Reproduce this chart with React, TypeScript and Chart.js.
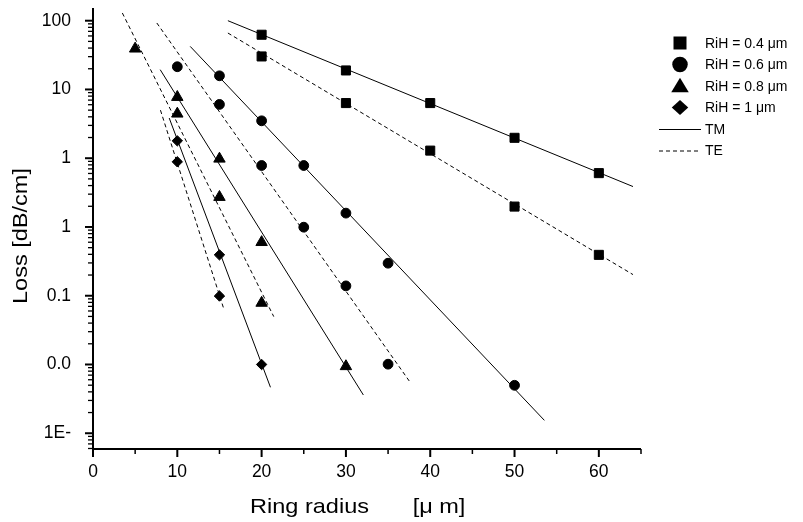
import React, { useEffect, useRef } from 'react';
import { Chart, registerables } from 'chart.js';

Chart.register(...registerables);

const FONT = '"Liberation Sans", Arial, Helvetica, sans-serif';

// ---- axes ----
const X_TICKS = [0, 10, 20, 30, 40, 50, 60];
const X_MINOR_TICKS = [5, 15, 25, 35, 45, 55, 65];
const Y_TICKS = [100, 10, 1, 0.1, 0.01, 0.001, 0.0001];
const Y_TICK_LABELS = ['100', '10', '1', '1', '0.1', '0.0', '1E-'];
const X_MIN = 0;
const X_MAX = 65;
const Y_MIN = 5.9e-5;
const Y_MAX = 153;

const X_TITLE = 'Ring radius';
const X_UNIT = '[\u03bc m]';
const Y_TITLE = 'Loss [dB/cm]';
const SERIES_LABELS = ['RiH = 0.4 \u03bcm', 'RiH = 0.6 \u03bcm', 'RiH = 0.8 \u03bcm', 'RiH = 1 \u03bcm'];
const MODE_LABELS = ['TM', 'TE'];

// ---- measured points ----
const R_04 = [20, 30, 40, 50, 60];
const TM_04 = [62.5, 18.9, 6.34, 1.98, 0.607];
const TE_04 = [30.2, 6.34, 1.29, 0.198, 0.0393];

const R_06_TM = [15, 20, 25, 30, 35, 50];
const TM_06 = [15.8, 3.5, 0.783, 0.159, 0.0297, 0.000498];
const R_06_TE = [10, 15, 20, 25, 30, 35];
const TE_06 = [21.4, 6.06, 0.783, 0.0993, 0.0139, 0.00101];

const R_08_TM = [10, 15, 20, 30];
const TM_08 = [7.74, 0.98, 0.06, 0.00094];
const R_08_TE = [5, 10, 15, 20];
const TE_08 = [39.1, 4.43, 0.272, 0.00785];

const R_1_TM = [10, 15, 20];
const TM_1 = [1.79, 0.0393, 0.001];
const R_1_TE = [10, 15];
const TE_1 = [0.887, 0.0099];

// ---- fitted lines (start / end) ----
const FIT_04_TM_X = [16.0, 64.05];
const FIT_04_TM_Y = [100, 0.387];
const FIT_04_TE_X = [16.0, 64.05];
const FIT_04_TE_Y = [66.2, 0.0203];
const FIT_06_TM_X = [11.53, 53.54];
const FIT_06_TM_Y = [42.3, 0.000154];
const FIT_06_TE_X = [7.57, 37.57];
const FIT_06_TE_Y = [92.6, 0.000562];
const FIT_08_TM_X = [7.97, 32.07];
const FIT_08_TM_Y = [19.4, 0.00036];
const FIT_08_TE_X = [3.48, 21.44];
const FIT_08_TE_Y = [129.5, 0.00497];
const FIT_1_TM_X = [9.04, 21.05];
const FIT_1_TM_Y = [3.84, 0.000466];
const FIT_1_TE_X = [8.0, 15.49];
const FIT_1_TE_Y = [5.0, 0.00657];

const pts = (xs: number[], ys: number[]) => xs.map((x, i) => ({ x, y: ys[i] }));

const TE_DASH = [4, 3];

function lineDs(xs: number[], ys: number[], dashed: boolean) {
  return {
    type: 'line' as const,
    label: dashed ? MODE_LABELS[1] : MODE_LABELS[0],
    data: pts(xs, ys),
    borderColor: '#000',
    borderWidth: 1,
    borderDash: dashed ? TE_DASH : [],
    pointRadius: 0,
    fill: false,
    tension: 0,
    order: 2,
  };
}

function markerDs(label: string, data: { x: number; y: number }[], style: string, radius: number) {
  return {
    type: 'scatter' as const,
    label,
    data,
    pointStyle: style,
    pointRadius: radius,
    pointBackgroundColor: '#000',
    pointBorderColor: '#000',
    pointBorderWidth: 1,
    showLine: false,
    order: 1,
  };
}

function drawLegendMarker(ctx: CanvasRenderingContext2D, style: string, x: number, y: number, w: number, h: number) {
  ctx.beginPath();
  if (style === 'rect') {
    ctx.rect(x - w / 2, y - h / 2, w, h);
  } else if (style === 'circle') {
    ctx.arc(x, y, w / 2, 0, Math.PI * 2);
  } else if (style === 'triangle') {
    ctx.moveTo(x, y - h / 2);
    ctx.lineTo(x + w / 2, y + h / 2);
    ctx.lineTo(x - w / 2, y + h / 2);
    ctx.closePath();
  } else {
    ctx.moveTo(x, y - h / 2);
    ctx.lineTo(x + w / 2, y);
    ctx.lineTo(x, y + h / 2);
    ctx.lineTo(x - w / 2, y);
    ctx.closePath();
  }
  ctx.fill();
}

function scaledText(ctx: CanvasRenderingContext2D, text: string, x: number, y: number, rot: number, sx: number) {
  ctx.save();
  ctx.translate(x, y);
  ctx.rotate(rot);
  ctx.scale(sx, 1);
  ctx.textAlign = 'center';
  ctx.textBaseline = 'middle';
  ctx.fillText(text, 0, 0);
  ctx.restore();
}

const axesPlugin = {
  id: 'customAxes',
  beforeDatasetsDraw(chart: any) {
    const { ctx, chartArea: a, scales } = chart;
    const xs = scales.x;
    const ys = scales.y;
    ctx.save();
    ctx.strokeStyle = '#000';
    ctx.lineWidth = 2;
    ctx.beginPath();
    ctx.moveTo(a.left, a.top);
    ctx.lineTo(a.left, a.bottom + 1);
    ctx.moveTo(a.left - 1, a.bottom);
    ctx.lineTo(a.right, a.bottom);
    ctx.stroke();
    // x ticks
    ctx.beginPath();
    X_TICKS.forEach((v) => {
      const p = xs.getPixelForValue(v);
      ctx.moveTo(p, a.bottom);
      ctx.lineTo(p, a.bottom + 8);
    });
    ctx.stroke();
    ctx.lineWidth = 1.5;
    ctx.beginPath();
    X_MINOR_TICKS.forEach((v) => {
      const p = xs.getPixelForValue(v);
      ctx.moveTo(p, a.bottom);
      ctx.lineTo(p, a.bottom + 5);
    });
    ctx.stroke();
    // y ticks (log: majors at decades, minors 2..9)
    for (let e = -5; e <= 2; e++) {
      for (let k = 1; k <= 9; k++) {
        const v = k * Math.pow(10, e);
        if (v < Y_MIN || v > Y_MAX) continue;
        const p = ys.getPixelForValue(v);
        ctx.lineWidth = k === 1 ? 2 : 1.3;
        ctx.beginPath();
        ctx.moveTo(a.left - (k === 1 ? 8 : 5), p);
        ctx.lineTo(a.left, p);
        ctx.stroke();
      }
    }
    ctx.restore();
  },
  afterDraw(chart: any) {
    const { ctx } = chart;
    ctx.save();
    ctx.fillStyle = '#000';
    ctx.strokeStyle = '#000';
    // axis titles
    ctx.font = `21px ${FONT}`;
    scaledText(ctx, Y_TITLE, 21, 236, -Math.PI / 2, 1.12);
    scaledText(ctx, X_TITLE, 309.5, 507, 0, 1.12);
    scaledText(ctx, X_UNIT, 439, 507, 0, 1.12);

    // legend
    const rowY = [43, 64.5, 86, 107.5, 129, 150.5];
    const mx = 680;
    const styles = ['rect', 'circle', 'triangle', 'rectRot'];
    const sizes = [
      [13, 13],
      [15.5, 15.5],
      [17.5, 14.5],
      [16.5, 15],
    ];
    styles.forEach((s, i) => {
      drawLegendMarker(ctx, s, mx, rowY[i] + (s === 'triangle' ? -1 : 0), sizes[i][0], sizes[i][1]);
    });
    ctx.lineWidth = 1;
    [0, 1].forEach((i) => {
      ctx.setLineDash(i === 1 ? TE_DASH : []);
      ctx.beginPath();
      ctx.moveTo(659, rowY[4 + i] + 0.5);
      ctx.lineTo(701, rowY[4 + i] + 0.5);
      ctx.stroke();
    });
    ctx.setLineDash([]);
    ctx.font = `14px ${FONT}`;
    ctx.textAlign = 'left';
    ctx.textBaseline = 'middle';
    const labels = [...SERIES_LABELS, ...MODE_LABELS];
    labels.forEach((t, i) => ctx.fillText(t, 705, rowY[i] + 1));
    ctx.restore();
  },
};

export default function App() {
  const ref = useRef<HTMLCanvasElement>(null);
  useEffect(() => {
    if (!ref.current) return;
    const yAsc = Y_TICKS.map((v, i) => ({ v, l: Y_TICK_LABELS[i] })).sort((p, q) => p.v - q.v);
    const chart = new Chart(ref.current, {
      type: 'scatter',
      data: {
        datasets: [
          markerDs(SERIES_LABELS[0], [...pts(R_04, TM_04), ...pts(R_04, TE_04)], 'rect', 6.4),
          markerDs(SERIES_LABELS[1], [...pts(R_06_TM, TM_06), ...pts(R_06_TE, TE_06)], 'circle', 4.9),
          markerDs(SERIES_LABELS[2], [...pts(R_08_TM, TM_08), ...pts(R_08_TE, TE_08)], 'triangle', 6.6),
          markerDs(SERIES_LABELS[3], [...pts(R_1_TM, TM_1), ...pts(R_1_TE, TE_1)], 'rectRot', 5.2),
          lineDs(FIT_04_TM_X, FIT_04_TM_Y, false),
          lineDs(FIT_04_TE_X, FIT_04_TE_Y, true),
          lineDs(FIT_06_TM_X, FIT_06_TM_Y, false),
          lineDs(FIT_06_TE_X, FIT_06_TE_Y, true),
          lineDs(FIT_08_TM_X, FIT_08_TM_Y, false),
          lineDs(FIT_08_TE_X, FIT_08_TE_Y, true),
          lineDs(FIT_1_TM_X, FIT_1_TM_Y, false),
          lineDs(FIT_1_TE_X, FIT_1_TE_Y, true),
        ] as any,
      },
      options: {
        responsive: false,
        animation: false,
        devicePixelRatio: 1,
        layout: { padding: { top: 8, right: 162, left: 0, bottom: 0 } },
        plugins: { legend: { display: false }, tooltip: { enabled: false } },
        scales: {
          x: {
            type: 'linear',
            min: X_MIN,
            max: X_MAX,
            grid: { display: false, drawTicks: false, tickLength: 0 },
            border: { display: false },
            afterBuildTicks: (s: any) => {
              s.ticks = X_TICKS.map((v) => ({ value: v }));
            },
            afterFit: (s: any) => {
              s.height = 73;
              s.paddingLeft = 0;
              s.paddingRight = 0;
            },
            ticks: {
              color: '#000',
              font: { size: 17.5, family: FONT },
              padding: 13,
              maxRotation: 0,
              autoSkip: false,
              callback: (v: any) => String(v),
            },
          },
          y: {
            type: 'logarithmic',
            min: Y_MIN,
            max: Y_MAX,
            grid: { display: false, drawTicks: false, tickLength: 0 },
            border: { display: false },
            afterBuildTicks: (s: any) => {
              s.ticks = yAsc.map((t) => ({ value: t.v }));
            },
            afterFit: (s: any) => {
              s.width = 93;
              s.paddingTop = 0;
              s.paddingBottom = 0;
            },
            ticks: {
              color: '#000',
              font: { size: 17.5, family: FONT },
              padding: 22,
              autoSkip: false,
              callback: (_v: any, i: number) => yAsc[i] ? yAsc[i].l : '',
            },
          },
        },
      } as any,
      plugins: [axesPlugin],
    });
    return () => chart.destroy();
  }, []);
  return (
    <div style={{ position: 'absolute', left: 0, top: 0, width: 803, height: 522, background: '#fff' }}>
      <canvas ref={ref} width={803} height={522} style={{ display: 'block' }} />
    </div>
  );
}
